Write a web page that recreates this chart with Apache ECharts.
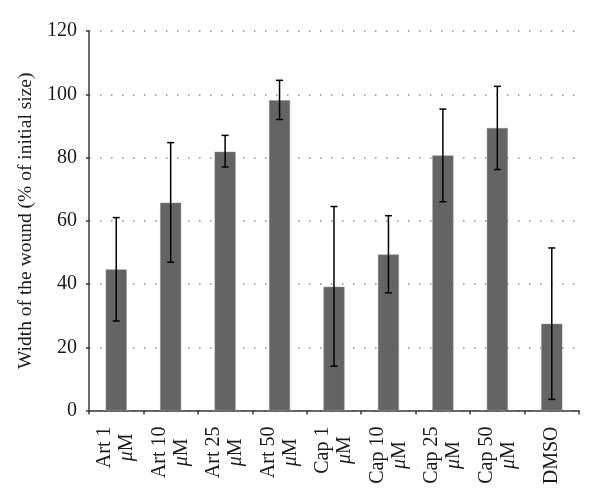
<!DOCTYPE html>
<html>
<head>
<meta charset="utf-8">
<script src="https://cdn.jsdelivr.net/npm/echarts@6/dist/echarts.min.js"></script>
<style>
  html, body { margin: 0; padding: 0; background: #fff; }
  #chart { width: 600px; height: 503px; }
</style>
</head>
<body>
<div id="chart"></div>
<script>
// groups on the x axis
const categories = ['Art 1 μM', 'Art 10 μM', 'Art 25 μM', 'Art 50 μM', 'Cap 1 μM', 'Cap 10 μM', 'Cap 25 μM', 'Cap 50 μM', 'DMSO']
// mean width of the wound (% of initial size)
const means = [44.6, 65.7, 81.8, 98.1, 39.1, 49.3, 80.6, 89.3, 27.4]
// error bar ends
const errHigh = [61.0, 84.7, 87.0, 104.4, 64.5, 61.6, 95.3, 102.5, 51.4]
const errLow = [28.3, 46.9, 77.0, 92.0, 14.0, 37.2, 66.0, 76.2, 3.5]
const yTicks = { min: 0, max: 120, step: 20 }

const serif = '"Liberation Serif", "DejaVu Serif", serif'
const chart = echarts.init(document.getElementById('chart'))

const errData = categories.map((c, i) => [i, errLow[i], errHigh[i]])

const option = {
  animation: false,
  grid: { left: 89, right: 21, top: 31, bottom: 92.5, containLabel: false, outerBoundsMode: 'none' },
  xAxis: {
    type: 'category',
    data: categories,
    axisLine: { lineStyle: { color: '#3a3a3a', width: 1.5 } },
    axisTick: { show: true, length: 4, inside: false, lineStyle: { color: '#3a3a3a', width: 1.5 } },
    axisLabel: {
      interval: 0,
      rotate: 90,
      margin: 16,
      color: '#1a1a1a',
      fontFamily: serif,
      fontSize: 20,
      formatter: v => {
        const i = v.indexOf(' μM')
        if (i < 0) return '{a|' + v + '}'
        return '{a|' + v.slice(0, i) + '}\n{m|μ}{a|M}'
      },
      rich: {
        a: { fontFamily: serif, fontSize: 20, color: '#1a1a1a', align: 'center', lineHeight: 22 },
        m: { fontFamily: serif, fontSize: 20, color: '#1a1a1a', align: 'center', lineHeight: 22, fontStyle: 'italic' }
      }
    }
  },
  yAxis: {
    type: 'value',
    min: yTicks.min,
    max: yTicks.max,
    interval: yTicks.step,
    name: 'Width of the wound (% of initial size)',
    nameLocation: 'middle',
    nameGap: 43,
    nameTextStyle: { fontFamily: serif, fontSize: 19.5, color: '#1a1a1a' },
    axisLine: { show: true, lineStyle: { color: '#3a3a3a', width: 1.5 } },
    axisTick: { show: true, length: 3, lineStyle: { color: '#3a3a3a', width: 1.5 } },
    axisLabel: { margin: 12, color: '#1a1a1a', fontFamily: serif, fontSize: 20 },
    splitLine: { show: true, lineStyle: { color: '#8a8a8a', width: 1.5, type: [1.5, 9.5] } }
  },
  series: [
    {
      type: 'bar',
      data: means,
      barWidth: 21,
      itemStyle: { color: '#646464', borderColor: '#8a8a8a', borderWidth: 0.5 }
    },
    {
      type: 'custom',
      data: errData,
      z: 5,
      renderItem: (params, api) => {
        const idx = api.value(0)
        const lo = api.coord([idx, api.value(1)])
        const hi = api.coord([idx, api.value(2)])
        const cap = 3.5
        const style = { stroke: '#000', lineWidth: 1.5 }
        return {
          type: 'group',
          children: [
            { type: 'line', shape: { x1: lo[0], y1: lo[1], x2: hi[0], y2: hi[1] }, style },
            { type: 'line', shape: { x1: hi[0] - cap, y1: hi[1], x2: hi[0] + cap, y2: hi[1] }, style },
            { type: 'line', shape: { x1: lo[0] - cap, y1: lo[1], x2: lo[0] + cap, y2: lo[1] }, style }
          ]
        }
      }
    }
  ]
}

chart.setOption(option)
</script>
</body>
</html>
